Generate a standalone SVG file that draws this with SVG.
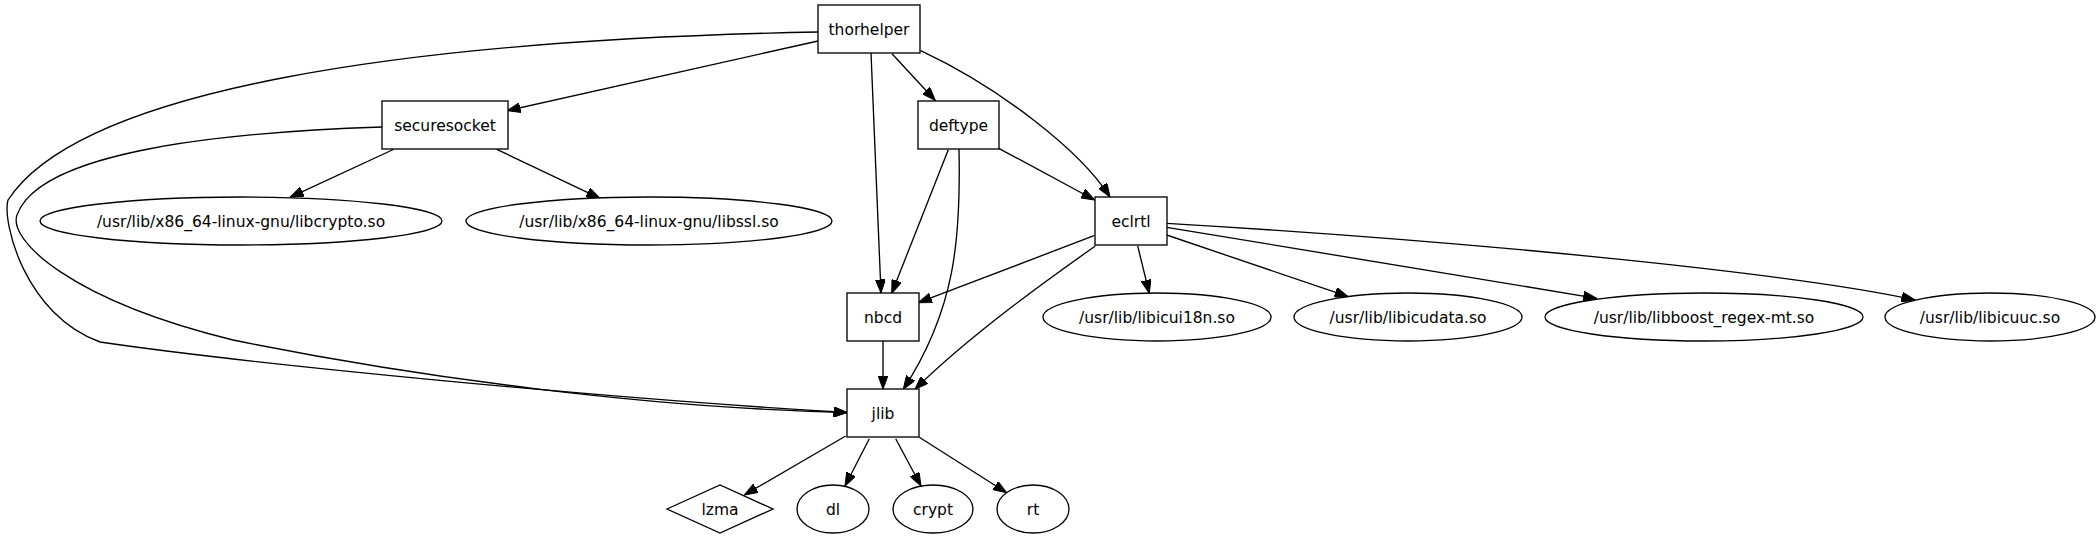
<svg xmlns="http://www.w3.org/2000/svg" width="2100" height="539" viewBox="0 0 2100 539">
<defs>
<marker id="ah" markerUnits="userSpaceOnUse" markerWidth="14" markerHeight="10" refX="13.5" refY="5" orient="auto">
<path d="M0,0 L13.5,5 L0,10 z" fill="#000" stroke="#000" stroke-width="1"/>
</marker>
<style>
.n{fill:#fff;stroke:#000;stroke-width:1.33}
.t{font-family:"DejaVu Sans",sans-serif;font-size:15.5px;text-anchor:middle;fill:#000}
.e{fill:none;stroke:#000;stroke-width:1.33;marker-end:url(#ah)}
</style>
</defs>
<rect width="2100" height="539" fill="#fff"/>
<g id="connectors">
<path class="e" d="M818,41 L507,110.7"/>
<path class="e" d="M818,32 C400,40 80,90 8,200 C2,222 25,315 100,342 C250,364 600,398 847,412.5"/>
<path class="e" d="M382,127 C230,132 40,150 17,215 C8,240 70,300 233,340 C420,378 650,408 847,412.5"/>
<path class="e" d="M871,53 L881,293"/>
<path class="e" d="M892,53.7 L935.3,100.5"/>
<path class="e" d="M920.7,50.7 C1000,88 1080,150 1110,197"/>
<path class="e" d="M393.3,149.5 L290,197.3"/>
<path class="e" d="M496.7,149.3 L600,198.3"/>
<path class="e" d="M948.3,149.7 L891.7,293.3"/>
<path class="e" d="M959,149 C961,240 955,310 903.3,389.3"/>
<path class="e" d="M998.7,148.3 L1094.7,200"/>
<path class="e" d="M1094,235.7 L918.3,302.7"/>
<path class="e" d="M1095.3,246 C1050,278 970,335 915,389.3"/>
<path class="e" d="M1137.7,246 L1149.3,293.3"/>
<path class="e" d="M1166.7,235 L1348.3,296.7"/>
<path class="e" d="M1166.7,227.3 L1596.7,298.3"/>
<path class="e" d="M1166.7,223.3 C1500,243 1800,275 1915,300"/>
<path class="e" d="M883,341 L883,389"/>
<path class="e" d="M845.7,436 L744.3,495"/>
<path class="e" d="M869.3,438.7 L845,486"/>
<path class="e" d="M895.7,438.7 L921,486"/>
<path class="e" d="M919.3,437.3 L1006.7,492.7"/>
</g>
<g id="thorhelper"><rect class="n" x="818" y="5" width="102" height="48"/><text class="t" x="869" y="34.5">thorhelper</text></g>
<g id="securesocket"><rect class="n" x="382" y="101" width="126" height="48"/><text class="t" x="445" y="130.5">securesocket</text></g>
<g id="deftype"><rect class="n" x="918" y="101" width="81" height="48"/><text class="t" x="958.5" y="130.5">deftype</text></g>
<g id="eclrtl"><rect class="n" x="1095" y="197" width="72" height="48"/><text class="t" x="1131" y="226.5">eclrtl</text></g>
<g id="nbcd"><rect class="n" x="847" y="293" width="72" height="48"/><text class="t" x="883" y="322.5">nbcd</text></g>
<g id="jlib"><rect class="n" x="847" y="389" width="72" height="48"/><text class="t" x="883" y="418.5">jlib</text></g>
<g id="libcrypto"><ellipse class="n" cx="241" cy="221" rx="201" ry="24"/><text class="t" x="241" y="226.5">/usr/lib/x86_64-linux-gnu/libcrypto.so</text></g>
<g id="libssl"><ellipse class="n" cx="649" cy="221" rx="183" ry="24"/><text class="t" x="649" y="226.5">/usr/lib/x86_64-linux-gnu/libssl.so</text></g>
<g id="libicui18n"><ellipse class="n" cx="1157" cy="317" rx="114" ry="24"/><text class="t" x="1157" y="322.5">/usr/lib/libicui18n.so</text></g>
<g id="libicudata"><ellipse class="n" cx="1408" cy="317" rx="114" ry="24"/><text class="t" x="1408" y="322.5">/usr/lib/libicudata.so</text></g>
<g id="libboost"><ellipse class="n" cx="1704" cy="317" rx="159" ry="24"/><text class="t" x="1704" y="322.5">/usr/lib/libboost_regex-mt.so</text></g>
<g id="libicuuc"><ellipse class="n" cx="1990" cy="317" rx="105" ry="24"/><text class="t" x="1990" y="322.5">/usr/lib/libicuuc.so</text></g>
<g id="lzma"><polygon class="n" points="667,509 720,485 773,509 720,533"/><text class="t" x="720" y="514.5">lzma</text></g>
<g id="dl"><ellipse class="n" cx="833" cy="509" rx="36" ry="24"/><text class="t" x="833" y="514.5">dl</text></g>
<g id="crypt"><ellipse class="n" cx="933" cy="509" rx="40" ry="24"/><text class="t" x="933" y="514.5">crypt</text></g>
<g id="rt"><ellipse class="n" cx="1033" cy="509" rx="36" ry="24"/><text class="t" x="1033" y="514.5">rt</text></g>
</svg>
